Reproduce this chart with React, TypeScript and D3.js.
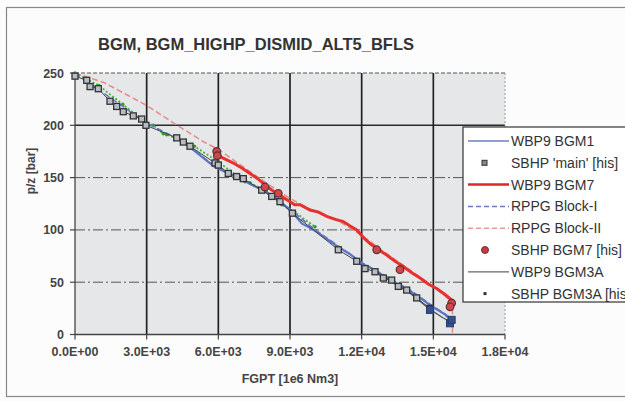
import React from "react";
import * as d3 from "d3";

type P = [number, number];

const title = "BGM, BGM_HIGHP_DISMID_ALT5_BFLS";
const xTicks = [0, 3000, 6000, 9000, 12000, 15000, 18000];
const xTickLabels = ["0.0E+00", "3.0E+03", "6.0E+03", "9.0E+03", "1.2E+04", "1.5E+04", "1.8E+04"];
const yTicks = [0, 50, 100, 150, 200, 250];
const xTitle = "FGPT [1e6 Nm3]";
const yTitle = "p/z [bar]";

const wbp9Bgm1: P[] = [
  [4600, 183], [5200, 172], [5800, 161], [6500, 153], [7000, 148], [7500, 142], [8000, 136],
  [8500, 129], [9100, 117], [9500, 106], [10000, 100], [10500, 92], [11000, 84], [11500, 77],
  [12000, 68], [12500, 62], [13000, 55], [13500, 48], [14000, 42], [14500, 34], [15000, 26],
  [15500, 19], [15800, 12],
];
const sbhpMain: P[] = [
  [0, 247], [490, 243], [630, 237], [975, 235], [1465, 223], [1745, 218], [2020, 213],
  [2440, 209], [2790, 206], [2970, 200], [4257, 188], [4534, 184], [4814, 180], [5860, 164],
  [6000, 162], [6417, 154], [6766, 151], [7046, 149], [7815, 138], [8234, 132], [8581, 127],
  [9100, 116], [11023, 81], [11792, 70], [12140, 63], [12558, 60], [12907, 54], [13256, 52],
  [13534, 46], [13883, 42.5], [14302, 35], [14860, 25],
];
const wbp9Bgm7: P[] = [
  [5932, 175], [6070, 170], [6350, 167], [6627, 164], [7000, 159], [7325, 154], [7650, 149],
  [7953, 143], [8250, 138], [8581, 133], [9000, 127], [9200, 124], [9419, 124], [9837, 119],
  [10200, 117], [10536, 113], [10900, 110], [11231, 108], [11500, 104], [11792, 100],
  [12100, 92], [12349, 87], [12700, 81], [13048, 76], [13400, 70], [13742, 65], [14100, 59],
  [14442, 54], [14800, 48], [15140, 44], [15500, 38], [15768, 33],
];
const rppgBlockI: P[] = [
  [0, 250], [1500, 226], [3000, 202], [4500, 185], [5000, 176], [5600, 165], [6000, 160],
  [7000, 148], [8000, 136], [9000, 120], [10000, 101], [11000, 85], [12000, 69], [13000, 56],
  [14000, 43], [15000, 27], [15800, 15],
];
const rppgBlockII: P[] = [
  [0, 250], [1200, 241], [3000, 219], [4000, 204], [5400, 184], [6000, 177], [7000, 161],
  [8000, 145], [9000, 130], [10000, 118], [11000, 109], [12000, 95], [13000, 78], [14000, 62],
  [15000, 46], [15800, 31], [15800, 0],
];
const sbhpBgm7: P[] = [
  [5932, 175], [5960, 171], [7953, 141], [8510, 135], [12630, 81], [13605, 62], [15767, 30],
  [15700, 26.5],
];
const wbp9Bgm3a: P[] = [
  [12600, 60], [13200, 51], [14000, 40], [14860, 24], [15400, 16], [15800, 11],
];
const sbhpBgm3a: P[] = [
  [14860, 23.5], [15697, 10.7], [15767, 14],
];
const greenSeries: P[] = [
  [0, 250], [1000, 238], [2000, 220], [3000, 202], [3277, 200], [3696, 192], [3837, 191],
  [4500, 185], [5000, 180], [6000, 165], [7116, 146], [7325, 145], [8000, 137], [8652, 124],
  [9200, 117], [10046, 103],
];

const legendItems = [
  "WBP9 BGM1", "SBHP 'main' [his]", "WBP9 BGM7", "RPPG Block-I",
  "RPPG Block-II", "SBHP BGM7 [his]", "WBP9 BGM3A", "SBHP BGM3A [his]",
];

export default function App() {
  const x = d3.scaleLinear().domain([0, 18000]).range([75, 505]);
  const y = d3.scaleLinear().domain([0, 250]).range([334.5, 73]);
  const line = d3.line<P>().x((d) => x(d[0])).y((d) => y(d[1]));
  const font = "'Liberation Sans', Arial, sans-serif";
  const legendX = 463;
  const legendY = 127;
  const rowY = (i: number) => 141 + i * 21.8;

  return (
    <svg width={625} height={401} style={{ position: "absolute", left: 0, top: 0, background: "#fff" }} fontFamily={font}>
      <rect x={0} y={0} width={625} height={401} fill="#fcfcfc" />
      <rect x={6.5} y={7.5} width={640} height={389} fill="none" stroke="#888" strokeWidth={1.2} />
      <text x={98} y={50} fontSize={16.5} fontWeight="bold" fill="#333">{title}</text>

      <rect x={x(0)} y={y(250)} width={x(18000) - x(0)} height={y(0) - y(250)} fill="#e5e7e9" />

      {/* horizontal grid */}
      {yTicks.filter((t) => t > 0).map((t) => (
        <line key={"h" + t} x1={x(0)} x2={x(18000)} y1={y(t)} y2={y(t)}
          stroke={t === 200 ? "#2a2a2a" : "#555"}
          strokeWidth={t === 200 ? 1.6 : 1}
          strokeDasharray={t === 200 ? undefined : t === 250 ? "4 2" : "10 3 2 3"} />
      ))}
      {/* vertical grid */}
      {xTicks.filter((t) => t > 0).map((t) => (
        <line key={"v" + t} x1={x(t)} x2={x(t)} y1={y(250)} y2={y(0)}
          stroke={t === 18000 ? "#999" : "#222"} strokeWidth={t === 18000 ? 1 : 1.7}
          strokeDasharray={t === 18000 ? "2 2" : undefined} />
      ))}
      {/* axes */}
      <line x1={x(0)} x2={x(0)} y1={y(250)} y2={y(0)} stroke="#444" strokeWidth={1.3} />
      <line x1={x(0)} x2={x(18000)} y1={y(0)} y2={y(0)} stroke="#444" strokeWidth={1.3} />
      {yTicks.map((t) => (
        <g key={"yt" + t}>
          <line x1={x(0) - 5} x2={x(0)} y1={y(t)} y2={y(t)} stroke="#444" strokeWidth={1.2} />
          <text x={64} y={y(t) + 4.5} textAnchor="end" fontSize={12.5} fontWeight="bold" fill="#444">{t}</text>
        </g>
      ))}
      {xTicks.map((t, i) => (
        <g key={"xt" + t}>
          <line x1={x(t)} x2={x(t)} y1={y(0)} y2={y(0) + 5} stroke="#444" strokeWidth={1.2} />
          <text x={x(t)} y={356} textAnchor="middle" fontSize={12.5} fontWeight="bold" fill="#444">{xTickLabels[i]}</text>
        </g>
      ))}
      <text x={290} y={383} textAnchor="middle" fontSize={12.5} fontWeight="bold" fill="#444">{xTitle}</text>
      <text transform="translate(35,171) rotate(-90)" textAnchor="middle" fontSize={12} fontWeight="bold" fill="#444">{yTitle}</text>

      {/* series */}
      <path d={line(rppgBlockII) || ""} fill="none" stroke="#e88a8a" strokeWidth={1.5} strokeDasharray="6 3" />
      <path d={line(greenSeries) || ""} fill="none" stroke="#4caf3c" strokeWidth={1.8} strokeDasharray="2 2" />
      {greenSeries.map((d, i) => (
        <circle key={"g" + i} cx={x(d[0])} cy={y(d[1])} r={1.8} fill="#3a9a2a" />
      ))}
      <path d={line(rppgBlockI) || ""} fill="none" stroke="#6478c4" strokeWidth={1.5} strokeDasharray="6 3" />
      <path d={line(wbp9Bgm1) || ""} fill="none" stroke="#5b74c4" strokeWidth={2.2} />
      <path d={line(wbp9Bgm3a) || ""} fill="none" stroke="#555" strokeWidth={1.3} />
      <path d={line(sbhpMain) || ""} fill="none" stroke="#444" strokeWidth={1} />
      {sbhpMain.map((d, i) => (
        <rect key={"s" + i} x={x(d[0]) - 3} y={y(d[1]) - 3} width={6} height={6} fill="#b8bcc4" stroke="#333" strokeWidth={1.3} />
      ))}
      <path d={line(wbp9Bgm7) || ""} fill="none" stroke="#e8302c" strokeWidth={3} />
      {sbhpBgm7.map((d, i) => (
        <circle key={"r" + i} cx={x(d[0])} cy={y(d[1])} r={3.8} fill="#d2454a" stroke="#553333" strokeWidth={1.2} />
      ))}
      {sbhpBgm3a.map((d, i) => (
        <rect key={"b" + i} x={x(d[0]) - 3.5} y={y(d[1]) - 3.5} width={7} height={7} fill="#34508c" stroke="#283c6c" strokeWidth={1} />
      ))}

      {/* legend */}
      <rect x={legendX} y={legendY} width={200} height={175} fill="#fff" stroke="#333" strokeWidth={1.2} />
      {legendItems.map((name, i) => {
        const cy = rowY(i);
        let sample: React.ReactNode = null;
        if (i === 0) sample = <line x1={468} x2={509} y1={cy} y2={cy} stroke="#6a7fc4" strokeWidth={1.5} />;
        if (i === 1) sample = <rect x={482} y={cy - 2.5} width={5} height={5} fill="#888" stroke="#333" strokeWidth={1} />;
        if (i === 2) sample = <line x1={468} x2={509} y1={cy} y2={cy} stroke="#d8282c" strokeWidth={2.5} />;
        if (i === 3) sample = <line x1={468} x2={509} y1={cy} y2={cy} stroke="#6478c4" strokeWidth={1.5} strokeDasharray="5 3" />;
        if (i === 4) sample = <line x1={468} x2={509} y1={cy} y2={cy} stroke="#e89a9a" strokeWidth={1.5} strokeDasharray="5 3" />;
        if (i === 5) sample = <circle cx={485} cy={cy} r={3.5} fill="#c83a40" stroke="#663333" strokeWidth={1} />;
        if (i === 6) sample = <line x1={468} x2={509} y1={cy} y2={cy} stroke="#666" strokeWidth={1.2} />;
        if (i === 7) sample = <rect x={483.5} y={cy - 1.5} width={3} height={3} fill="#333" />;
        return (
          <g key={"l" + i}>
            {sample}
            <text x={511} y={cy + 5} fontSize={14} fill="#333">{name}</text>
          </g>
        );
      })}
    </svg>
  );
}
